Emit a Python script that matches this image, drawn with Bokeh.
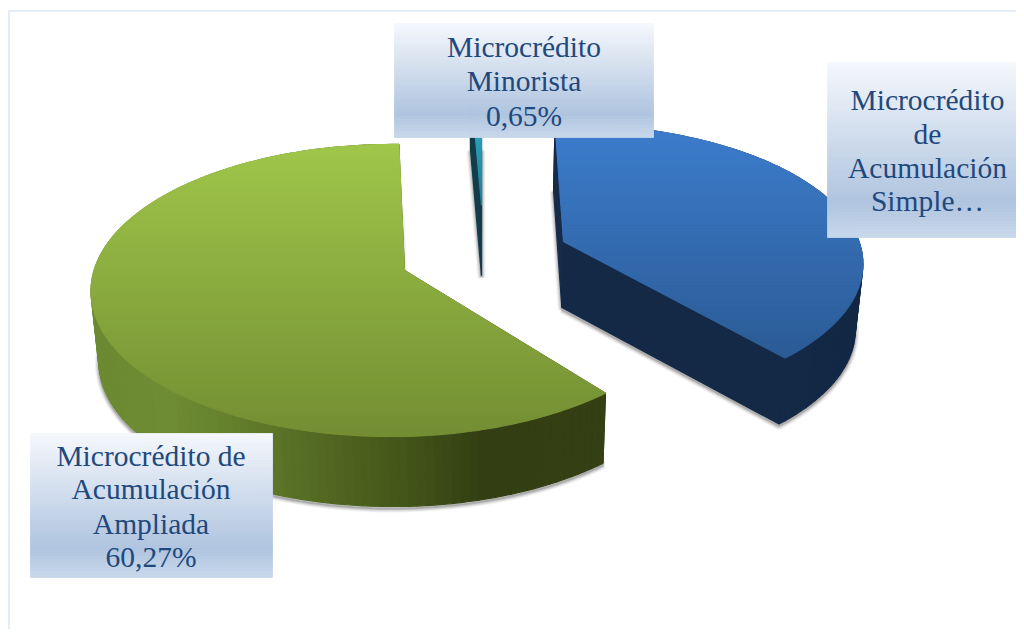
import math
import numpy as np
from bokeh.plotting import figure
from bokeh.models import Range1d
from bokeh.core.properties import value
from bokeh.embed import file_html
from bokeh.resources import INLINE

# ---- data -------------------------------------------------------------
categories = ["Microcrédito de Acumulación Simple", "Microcrédito Minorista", "Microcrédito de Acumulación Ampliada"]
shares = [39.08, 0.65, 60.27]   # percent; clockwise order is simple, ampliada, minorista
label_simple = ["Microcrédito", "de", "Acumulación", "Simple…"]
label_minorista = ["Microcrédito", "Minorista", "0,65%"]
label_ampliada = ["Microcrédito de", "Acumulación", "Ampliada", "60,27%"]

# ---- layout (picture pixels) ------------------------------------------
W, H = 1016, 629
B = 143.2                           # ellipse projection
VANISH_X, SHRINK = 480.0, 0.02
START = -1.7                        # degrees clockwise from the top
SLICES = {
    "simple": dict(apex=(563, 241), r=0.95, depth=66, nudge=-0.2, A=311.0, lean=0.0, K=0.17,
                   top=("#3D7DCD", "#2B5B95"), side=[(560, "#152B49"), (860, "#132845")]),
    "ampliada": dict(apex=(404, 270), r=1.0, depth=70, nudge=2.8, A=298.0, lean=0.04, K=0.1367,
                     top=("#A0C64A", "#738E33"),
                     side=[(95, "#6C8A32"), (170, "#6E8C33"), (230, "#64802D"), (300, "#566D24"),
                           (400, "#445619"), (480, "#333F13"), (607, "#343F14")]),
    "minorista": dict(apex=(481, 205), r=1.0, depth=70, nudge=1.7, A=312.0, lean=0.0, K=0.1367,
                      top=("#2FB5D4", "#1F8098"), side=[(460, "#133C4B"), (500, "#133C4B")]),
}
BOXES = [
    (label_minorista, 394, 653, 23, 137, 523.5, [46.5, 80.5, 115]),
    (label_simple, 827, 1024, 62, 237, 927, [99, 133.5, 167, 200.5]),
    (label_ampliada, 30, 272, 433, 577, 150.5, [455.5, 488.5, 523.5, 556.5]),
]
BOX_STOPS = [(0.0, "#F5F8FC"), (0.8, "#AFC4DF"), (1.0, "#C8D8EB")]
TEXT_COLOR = "#1F497D"
FRAME = "#DCE8F8"


def hex2rgb(c):
    return np.array([int(c[i:i + 2], 16) for i in (1, 3, 5)], float)


def ramp(stops, t):
    ts = [s[0] for s in stops]
    cs = np.array([hex2rgb(s[1]) for s in stops])
    rgb = [np.interp(t, ts, cs[:, i]) for i in range(3)]
    return "#%02x%02x%02x" % tuple(int(round(v)) for v in rgb)


def project(cfg, deg):
    th = math.radians(deg)
    X, Y = cfg["r"] * math.sin(th), cfg["r"] * math.cos(th)
    s = 1 + cfg["K"] * Y + cfg["lean"] * X
    return cfg["apex"][0] + cfg["A"] * X / s, cfg["apex"][1] - B * Y / s


def drop(pt, depth):
    return pt[0] + (VANISH_X - pt[0]) * SHRINK, pt[1] + depth


def clip(poly, y, keep_above):
    out = []
    n = len(poly)
    for i in range(n):
        a, b = poly[i], poly[(i + 1) % n]
        ina = a[1] <= y if keep_above else a[1] >= y
        inb = b[1] <= y if keep_above else b[1] >= y
        if ina:
            out.append(a)
        if ina != inb:
            t = (y - a[1]) / (b[1] - a[1])
            out.append((a[0] + t * (b[0] - a[0]), y))
    return out


xs, ys, cols = [], [], []


def add(poly, color):
    if len(poly) >= 3:
        xs.append([q[0] for q in poly])
        ys.append([q[1] for q in poly])
        cols.append(color)


# angles from the values
spans = {"simple": shares[0] * 3.6, "ampliada": shares[2] * 3.6, "minorista": shares[1] * 3.6}
angle = START
shad_x, shad_y = [], []
tops = {}
for name in ["simple", "ampliada", "minorista"]:
    cfg = SLICES[name]
    a0, a1 = angle + cfg["nudge"], angle + spans[name] + cfg["nudge"]
    angle += spans[name]
    n = max(3, int(spans[name] / 1.5))
    arc = [project(cfg, d) for d in np.linspace(a0, a1, n)]
    low = [drop(q, cfg["depth"]) for q in arc]
    apex = cfg["apex"]
    apex_low = drop(apex, cfg["depth"])
    shad = [apex_low] + low + [apex_low]
    shad_x.append([q[0] for q in shad])
    shad_y.append([q[1] + 2 for q in shad])
    tops[name] = dict(arc=arc, low=low, apex=apex, apex_low=apex_low, cfg=cfg)

p = figure(width=W, height=H, x_range=Range1d(0, W), y_range=Range1d(H, 0),
           output_backend="svg", toolbar_location=None, min_border=0, outline_line_color=None)
p.xaxis.visible = False
p.yaxis.visible = False
p.xgrid.visible = False
p.ygrid.visible = False

# frame of the original picture
p.multi_line([[8, 1024], [8.5, 8.5]], [[10.5, 10.5], [10, 637]], line_color=FRAME, line_width=1.6)

# soft drop shadow
for w, al in [(8, 0.06), (6, 0.09), (4, 0.13), (2, 0.2)]:
    p.multi_line(shad_x, shad_y, line_color="#333333", line_width=w, line_alpha=al)

for name in ["simple", "ampliada", "minorista"]:
    d = tops[name]
    cfg = d["cfg"]
    arc, low, apex, apex_low = d["arc"], d["low"], d["apex"], d["apex_low"]
    xr = [s[0] for s in cfg["side"]]
    stops = [((s[0] - xr[0]) / (xr[-1] - xr[0]), s[1]) for s in cfg["side"]]
    frac = lambda x: min(1.0, max(0.0, (x - xr[0]) / (xr[-1] - xr[0])))
    # radial faces
    add([apex, arc[0], low[0], apex_low], ramp(stops, frac(arc[0][0])))
    add([apex, arc[-1], low[-1], apex_low], ramp(stops, frac(arc[-1][0])))
    # outer wall
    for i in range(len(arc) - 1):
        add([arc[i], arc[i + 1], low[i + 1], low[i]], ramp(stops, frac((arc[i][0] + arc[i + 1][0]) / 2)))
    # top face in horizontal bands
    poly = [apex] + arc
    y0, y1 = min(q[1] for q in poly), max(q[1] for q in poly)
    step = 3.0
    yy = y0
    while yy < y1:
        band = clip(clip(poly, yy, False), yy + step, True)
        t = (yy + step / 2 - y0) / (y1 - y0)
        c = ramp([(0, cfg["top"][0]), (1, cfg["top"][1])], t)
        add(band, c)
        yy += step

p.patches(xs, ys, fill_color=cols, line_color=cols, line_width=1.2)

# label boxes
for lines, x0, x1, y0, y1, cx, lys in BOXES:
    edges = np.arange(y0, y1, 3.0)
    tops_ = edges
    bots = np.minimum(edges + 3.0, y1)
    colors = [ramp(BOX_STOPS, (e + 1.5 - y0) / (y1 - y0)) for e in edges]
    p.quad(left=x0, right=x1, top=tops_, bottom=bots, fill_color=colors, line_color=colors, line_width=0.8)
    p.text(x=[cx] * len(lines), y=lys, text=lines, text_font=value("Liberation Serif"),
           text_font_size="29.5px", text_color=TEXT_COLOR, text_align="center", text_baseline="middle")

open("out.html", "w").write(file_html(p, INLINE))
